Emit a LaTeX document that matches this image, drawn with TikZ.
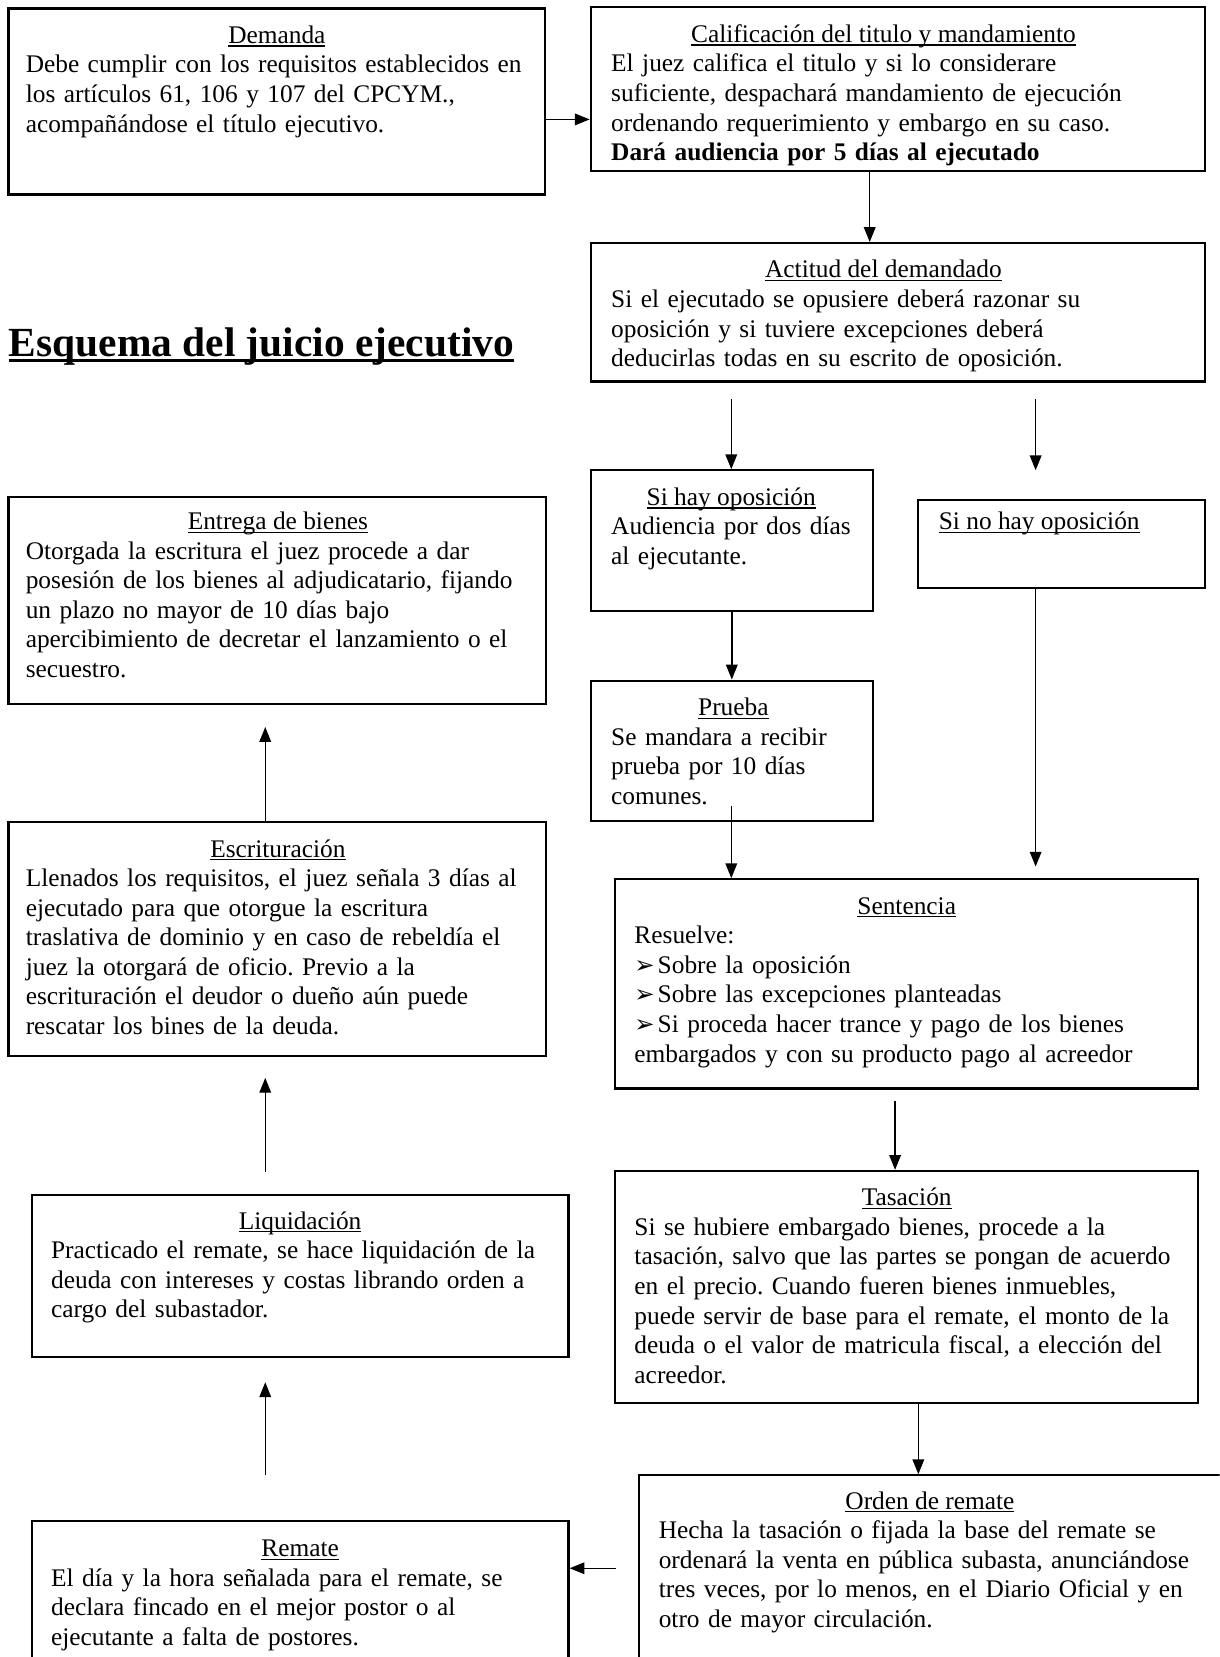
\documentclass[tikz,border=0pt]{standalone}
\usepackage{fontspec}
\setmainfont{Liberation Serif}
\newfontfamily\dvfont{DejaVu Sans}
\usetikzlibrary{arrows.meta,fit}
\frenchspacing
\newsavebox\hdbox
\newcommand\hd[1]{\sbox\hdbox{#1}\rlap{\rule[-1.6pt]{\wd\hdbox}{0.6pt}}\usebox\hdbox}
\newcommand\hdbig[1]{\sbox\hdbox{#1}\rlap{\rule[-3pt]{\wd\hdbox}{1.5pt}}\usebox\hdbox}
\newcommand\bul{\makebox[11pt][l]{\dvfont\fontsize{11.5pt}{14pt}\selectfont ➢}}
\begin{document}
\begin{tikzpicture}[x=0.5pt,y=-0.5pt,
  box/.style={draw, line width=1pt, inner sep=0pt},
  head/.style={anchor=base, inner sep=0pt, font=\fontsize{12pt}{14pt}\selectfont},
  body/.style={anchor=base west, inner sep=0pt, text width=300pt, align=left, font=\fontsize{12pt}{14pt}\selectfont},
  arr/.style={line width=0.65pt, -{Triangle[length=7pt,width=5.5pt]}}]
\useasboundingbox (0,0) rectangle (1154,1568);
\clip (0,0) rectangle (1154,1568);
\fill[white] (0,0) rectangle (1154,1568);

% boxes
\node[box, fit={(8,8) (516,184)}] (dem) {};
\node[box, fit={(559,7) (1140,162)}] (cal) {};
\node[box, fit={(559,230) (1140,361)}] (act) {};
\node[box, fit={(559,445) (826,578)}] (hay) {};
\node[box, fit={(869,473) (1140,556)}] (nohay) {};
\node[box, fit={(559,644) (826,777)}] (pru) {};
\node[box, fit={(8,470) (517,666)}] (ent) {};
\node[box, fit={(8,778) (517,999)}] (esc) {};
\node[box, fit={(30,1131) (538,1284)}] (liq) {};
\node[box, fit={(30,1439) (538,1620)}] (rem) {};
\node[box, fit={(582,832) (1134,1030)}] (sen) {};
\node[box, fit={(582,1108) (1134,1328)}] (tas) {};
\node[box, fit={(605,1396) (1170,1620)}] (ord) {};

% title
\node[anchor=base west, inner sep=0pt, font=\fontsize{19.6pt}{22pt}\selectfont\bfseries] (title) at (8,337)
  {\hdbig{Esquema del juicio ejecutivo}};

% Demanda
\node[head] (demh) at (262,41) {\hd{Demanda}};
\node[body] (demb) at (24,69) {Debe cumplir con los requisitos establecidos en\\
los artículos 61, 106 y 107 del CPCYM.,\\
acompañándose el título ejecutivo.};

% Calificacion
\node[head] (calh) at (836,40) {\hd{Calificación del titulo y mandamiento}};
\begin{scope}
\clip (559,7) rectangle (1140,157);
\node[body] (calb) at (578,68) {El juez califica el titulo y si lo considerare\\
suficiente, despachará mandamiento de ejecución\\
ordenando requerimiento y embargo en su caso.\\
\textbf{Dará audiencia por 5 días al ejecutado}};
\end{scope}

% Actitud
\node[head] (acth) at (836,263) {\hd{Actitud del demandado}};
\node[body] (actb) at (578,291) {Si el ejecutado se opusiere deberá razonar su\\
oposición y si tuviere excepciones deberá\\
deducirlas todas en su escrito de oposición.};

% Si hay
\node[head] (hayh) at (692,478) {\hd{Si hay oposición}};
\node[body] (hayb) at (578,506) {Audiencia por dos días\\
al ejecutante.};

% Si no hay
\node[head, anchor=base west] (nohayh) at (888,501) {\hd{Si no hay oposición}};

% Prueba
\node[head] (pruh) at (694,677) {\hd{Prueba}};
\node[body] (prub) at (578,705) {Se mandara a recibir\\
prueba por 10 días\\
comunes.};

% Entrega
\node[head] (enth) at (263,501) {\hd{Entrega de bienes}};
\node[body] (entb) at (24,529) {Otorgada la escritura el juez procede a dar\\
posesión de los bienes al adjudicatario, fijando\\
un plazo no mayor de 10 días bajo\\
apercibimiento de decretar el lanzamiento o el\\
secuestro.};

% Escrituracion
\node[head] (esch) at (263,811) {\hd{Escrituración}};
\node[body] (escb) at (24,839) {Llenados los requisitos, el juez señala 3 días al\\
ejecutado para que otorgue la escritura\\
traslativa de dominio y en caso de rebeldía el\\
juez la otorgará de oficio. Previo a la\\
escrituración el deudor o dueño aún puede\\
rescatar los bines de la deuda.};

% Liquidacion
\node[head] (liqh) at (284,1163) {\hd{Liquidación}};
\node[body] (liqb) at (48,1191) {Practicado el remate, se hace liquidación de la\\
deuda con intereses y costas librando orden a\\
cargo del subastador.};

% Remate
\node[head] (remh) at (284,1473) {\hd{Remate}};
\node[body] (remb) at (48,1501) {El día y la hora señalada para el remate, se\\
declara fincado en el mejor postor o al\\
ejecutante a falta de postores.};

% Sentencia
\node[head] (senh) at (858,865) {\hd{Sentencia}};
\node[body] (senb) at (600,893) {Resuelve:\\
\bul Sobre la oposición\\
\bul Sobre las excepciones planteadas\\
\bul Si proceda hacer trance y pago de los bienes\\
embargados y con su producto pago al acreedor};

% Tasacion
\node[head] (tash) at (858,1141) {\hd{Tasación}};
\node[body] (tasb) at (600,1169) {Si se hubiere embargado bienes, procede a la\\
tasación, salvo que las partes se pongan de acuerdo\\
en el precio. Cuando fueren bienes inmuebles,\\
puede servir de base para el remate, el monto de la\\
deuda o el valor de matricula fiscal, a elección del\\
acreedor.};

% Orden de remate
\node[head] (ordh) at (880,1428) {\hd{Orden de remate}};
\node[body] (ordb) at (623,1456) {Hecha la tasación o fijada la base del remate se\\
ordenará la venta en pública subasta, anunciándose\\
tres veces, por lo menos, en el Diario Oficial y en\\
otro de mayor circulación.};

% connector coordinates
\coordinate (y113) at (0,113);
\coordinate (x823) at (823,0);
\coordinate (a3s) at (692,378);
\coordinate (a4s) at (980,378);
\coordinate (a4e) at (980,445);
\coordinate (a6s) at (692,763);
\coordinate (a7e) at (980,820);
\coordinate (a8s) at (847,1042);
\coordinate (x869) at (869,0);
\coordinate (a10s) at (583,1484);
\coordinate (a11s) at (251,1396);
\coordinate (a11e) at (251,1308);
\coordinate (a12s) at (251,1109);
\coordinate (a12e) at (251,1020);
\coordinate (a13e) at (251,688);

% connectors
\draw[arr] (dem.east |- y113) -- (cal.west |- y113);
\draw[arr] (cal.south -| x823) -- (act.north -| x823);
\draw[arr] (a3s) -- (hay.north -| a3s);
\draw[arr] (a4s) -- (a4e);
\draw[arr] (hay.south) -- (pru.north);
\draw[arr] (a6s) -- (sen.north -| a6s);
\draw[arr] (nohay.south -| a7e) -- (a7e);
\draw[arr] (a8s) -- (tas.north -| a8s);
\draw[arr] (tas.south -| x869) -- (ord.north -| x869);
\draw[arr] (a10s) -- (rem.east |- a10s);
\draw[arr] (a11s) -- (a11e);
\draw[arr] (a12s) -- (a12e);
\draw[arr] (esc.north -| a13e) -- (a13e);
\end{tikzpicture}
\end{document}
